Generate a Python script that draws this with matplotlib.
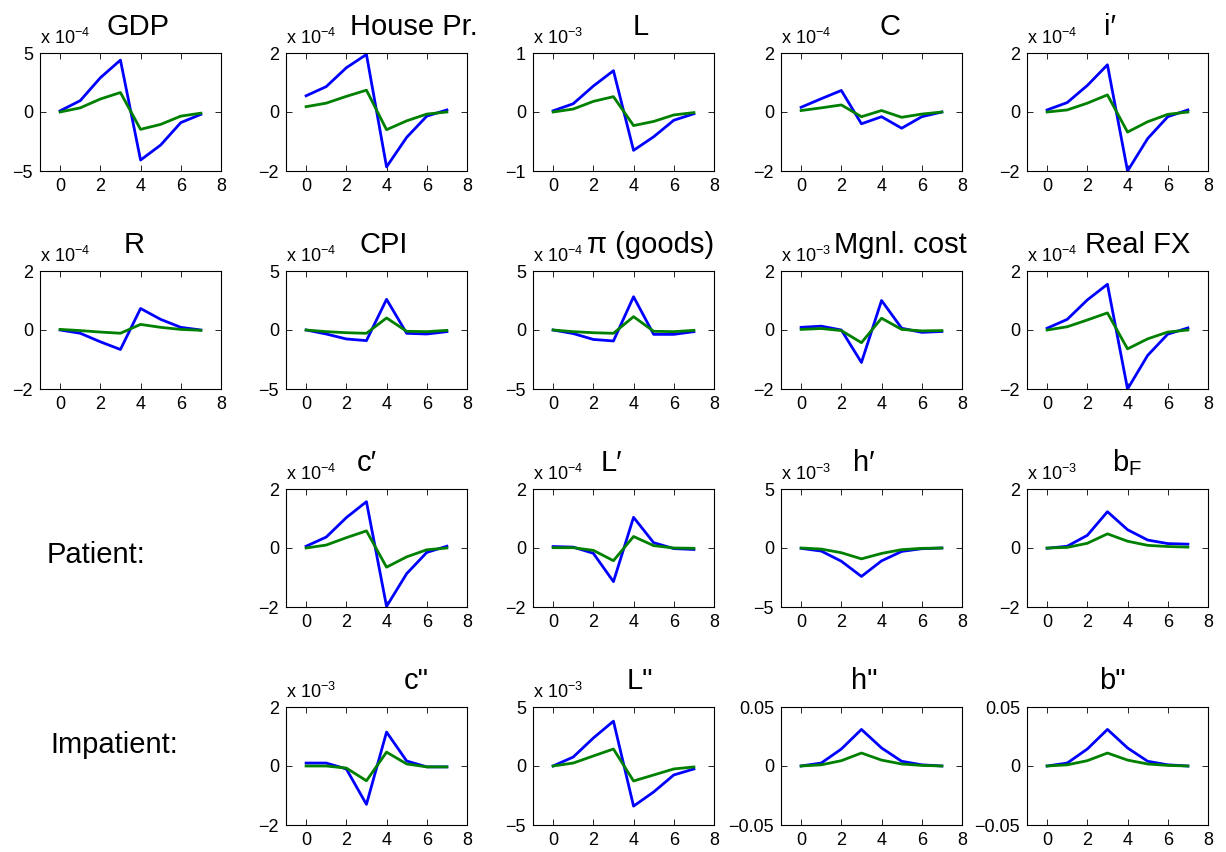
import numpy as np
import matplotlib.pyplot as plt

plt.rcParams['font.family'] = ['Liberation Sans', 'DejaVu Sans']
plt.rcParams['mathtext.fontset'] = 'custom'
plt.rcParams['mathtext.rm'] = 'Liberation Sans'
plt.rcParams['mathtext.it'] = 'Liberation Sans:italic'

periods = np.arange(8)

# values as read on each panel's own axis (true value = shown * 10**exponent)
gdp_blue = [0.1, 0.96, 2.9, 4.4, -4.07, -2.8, -0.9, -0.2]
gdp_green = [0.0, 0.35, 1.1, 1.65, -1.47, -1.05, -0.35, -0.1]
house_blue = [0.55, 0.86, 1.5, 1.95, -1.86, -0.86, -0.14, 0.07]
house_green = [0.18, 0.3, 0.53, 0.74, -0.6, -0.3, -0.07, 0.0]
lab_blue = [0.02, 0.14, 0.44, 0.7, -0.65, -0.42, -0.14, -0.03]
lab_green = [0.0, 0.05, 0.18, 0.26, -0.23, -0.16, -0.05, -0.01]
cons_blue = [0.16, 0.45, 0.73, -0.4, -0.16, -0.55, -0.16, 0.0]
cons_green = [0.05, 0.14, 0.24, -0.16, 0.05, -0.18, -0.07, 0.0]
inv_blue = [0.07, 0.32, 0.9, 1.6, -2.0, -0.9, -0.16, 0.07]
inv_green = [0.0, 0.07, 0.3, 0.58, -0.68, -0.33, -0.08, 0.0]

rate_blue = [0.0, -0.11, -0.4, -0.66, 0.73, 0.36, 0.09, 0.0]
rate_green = [0.02, -0.02, -0.07, -0.11, 0.19, 0.09, 0.02, -0.01]
cpi_blue = [0.0, -0.34, -0.76, -0.9, 2.6, -0.28, -0.34, -0.14]
cpi_green = [0.0, -0.14, -0.23, -0.28, 1.02, -0.11, -0.14, -0.03]
pig_blue = [0.0, -0.3, -0.8, -0.93, 2.82, -0.37, -0.37, -0.14]
pig_green = [0.0, -0.14, -0.23, -0.28, 1.13, -0.11, -0.14, -0.03]
mc_blue = [0.09, 0.13, 0.0, -1.1, 1.0, 0.06, -0.08, -0.05]
mc_green = [0.02, 0.05, -0.02, -0.43, 0.4, 0.02, -0.03, -0.02]
fx_blue = [0.06, 0.36, 1.02, 1.55, -2.0, -0.86, -0.14, 0.07]
fx_green = [0.0, 0.11, 0.34, 0.58, -0.64, -0.3, -0.07, 0.0]

cp_blue = [0.06, 0.37, 1.03, 1.57, -1.98, -0.87, -0.15, 0.06]
cp_green = [0.0, 0.1, 0.35, 0.58, -0.65, -0.3, -0.06, 0.0]
lp_blue = [0.05, 0.03, -0.18, -1.14, 1.04, 0.18, -0.02, -0.05]
lp_green = [0.01, 0.01, -0.08, -0.43, 0.39, 0.08, 0.0, -0.01]
hp_blue = [-0.03, -0.26, -1.12, -2.41, -1.09, -0.29, -0.06, 0.0]
hp_green = [0.0, -0.09, -0.4, -0.92, -0.46, -0.14, -0.03, 0.0]
bf_blue = [-0.01, 0.06, 0.43, 1.23, 0.62, 0.27, 0.15, 0.13]
bf_green = [0.0, 0.02, 0.16, 0.48, 0.23, 0.09, 0.05, 0.03]

ci_blue = [0.1, 0.1, -0.1, -1.3, 1.15, 0.17, -0.03, -0.03]
ci_green = [0.0, 0.0, -0.07, -0.5, 0.47, 0.07, -0.03, -0.03]
li_blue = [0.0, 0.76, 2.37, 3.8, -3.4, -2.2, -0.76, -0.25]
li_green = [0.0, 0.25, 0.85, 1.44, -1.27, -0.76, -0.25, -0.08]
hi_blue = [0.0, 0.0025, 0.0144, 0.031, 0.0153, 0.004, 0.001, 0.0]
hi_green = [0.0, 0.001, 0.0045, 0.011, 0.005, 0.0017, 0.0005, 0.0]
bi_blue = [0.0, 0.0025, 0.0144, 0.031, 0.0153, 0.004, 0.001, 0.0]
bi_green = [0.0, 0.001, 0.0045, 0.011, 0.005, 0.0017, 0.0005, 0.0]

# title, blue, green, y limit (shown units), exponent, row, col
panels = [
    ('GDP', gdp_blue, gdp_green, 5, -4, 0, 0),
    ('House Pr.', house_blue, house_green, 2, -4, 0, 1),
    ('L', lab_blue, lab_green, 1, -3, 0, 2),
    ('C', cons_blue, cons_green, 2, -4, 0, 3),
    ('i\u2032', inv_blue, inv_green, 2, -4, 0, 4),
    ('R', rate_blue, rate_green, 2, -4, 1, 0),
    ('CPI', cpi_blue, cpi_green, 5, -4, 1, 1),
    ('\u03c0 (goods)', pig_blue, pig_green, 5, -4, 1, 2),
    ('Mgnl. cost', mc_blue, mc_green, 2, -3, 1, 3),
    ('Real FX', fx_blue, fx_green, 2, -4, 1, 4),
    ('c\u2032', cp_blue, cp_green, 2, -4, 2, 1),
    ('L\u2032', lp_blue, lp_green, 2, -4, 2, 2),
    ('h\u2032', hp_blue, hp_green, 5, -3, 2, 3),
    (r'b$_\mathrm{F}$', bf_blue, bf_green, 2, -3, 2, 4),
    ('c"', ci_blue, ci_green, 2, -3, 3, 1),
    ('L"', li_blue, li_green, 5, -3, 3, 2),
    ('h"', hi_blue, hi_green, 0.05, 0, 3, 3),
    ('b"', bi_blue, bi_green, 0.05, 0, 3, 4),
]

# title nudges in pixels (matlab shifts some titles sideways)
title_dx = [7, 37, 17, 19, -7, 4, 7, 27, 29, 20, -10, -12, -8, 10, 40, 16, -7, -5]

W, H = 1226, 852
col_left = [40, 286, 533, 781, 1027]
row_top = [53, 271, 489, 707]
ax_w, ax_h = 181, 118

fig = plt.figure(figsize=(W / 100, H / 100), dpi=100)

for (title, blue, green, lim, ex, r, c), dx in zip(panels, title_dx):
    ax = fig.add_axes([col_left[c] / W, 1 - (row_top[r] + ax_h) / H, ax_w / W, ax_h / H])
    scale = 10.0 ** ex
    ax.plot(periods, np.array(blue) * scale, color=(0, 0, 1), lw=2)
    ax.plot(periods, np.array(green) * scale, color=(0, 0.5, 0), lw=2)
    ax.set_xlim(-1, 8)
    ax.set_xticks([0, 2, 4, 6, 8])
    ax.set_ylim(-lim * scale, lim * scale)
    ax.set_yticks([-lim * scale, 0, lim * scale])
    labs = ['%g' % v for v in (-lim, 0, lim)]
    ax.set_yticklabels([s.replace('-', '\u2212') for s in labs])
    ax.tick_params(direction='in', length=4, width=0.6, labelsize=13,
                   top=True, right=True, pad=5)
    for sp in ax.spines.values():
        sp.set_linewidth(0.8)
    if ex != 0:
        ax.text(0, 1.045, 'x 10$^{%d}$' % ex, transform=ax.transAxes,
                fontsize=13, ha='left', va='bottom')
    ax.set_title(title, fontsize=21, pad=13)
    ax.title.set_x(0.5 + dx / ax_w)

fig.text(47 / W, 1 - 555 / H, 'Patient:', fontsize=21, ha='left', va='center')
fig.text(50 / W, 1 - 745 / H, 'Impatient:', fontsize=21, ha='left', va='center')

fig.savefig('out.png', dpi=100)
